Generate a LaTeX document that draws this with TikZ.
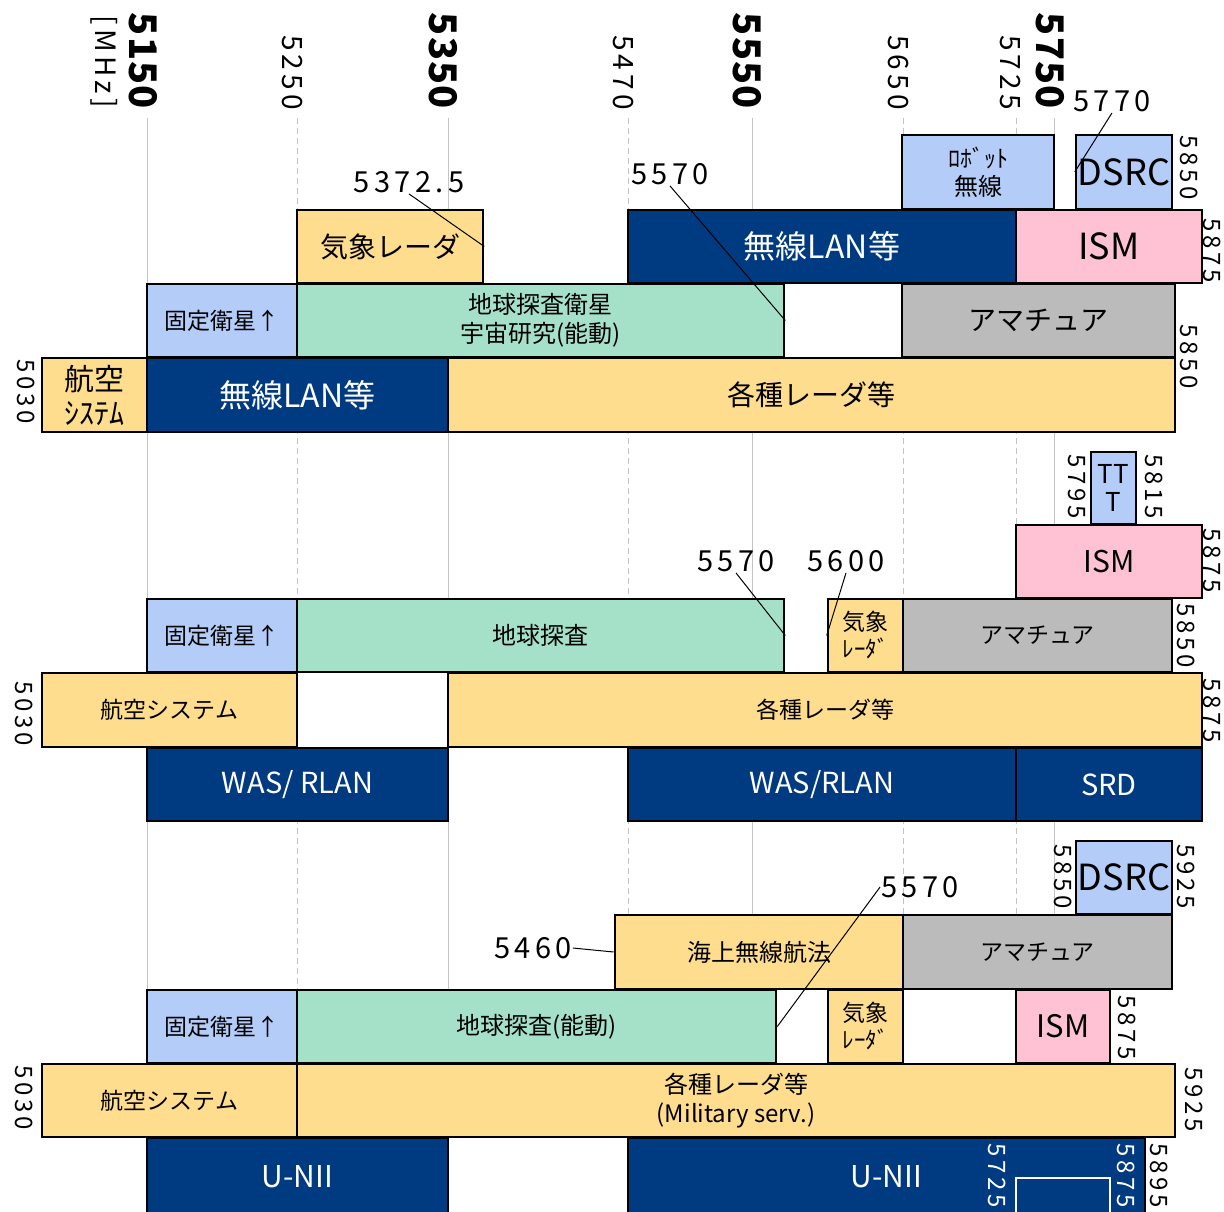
\documentclass[tikz,border=0pt]{standalone}
\usepackage{fontspec}
\setmainfont{Noto Sans CJK JP}
\newfontfamily\numfont[LetterSpace=15]{Noto Sans CJK JP}
\newfontfamily\numboldfont[LetterSpace=3]{Noto Sans CJK JP}
\definecolor{clb}{HTML}{B4CDF8}
\definecolor{cyl}{HTML}{FFDD8E}
\definecolor{cnv}{HTML}{003A80}
\definecolor{cpk}{HTML}{FEC2D4}
\definecolor{cgr}{HTML}{A4E1C8}
\definecolor{cgy}{HTML}{BCBBBC}
\definecolor{cgrid}{HTML}{C4C4C4}
\tikzset{
  box/.style={draw=black,line width=2.6pt,rectangle,inner sep=0pt,align=center,text=black},
  lb/.style={fill=clb}, yl/.style={fill=cyl}, nv/.style={fill=cnv,text=white},
  pk/.style={fill=cpk}, gr/.style={fill=cgr}, gy/.style={fill=cgy},
  gridsolid/.style={draw=cgrid,line width=1pt},
  griddash/.style={draw=cgrid,line width=1pt,dash pattern=on 6pt off 4pt},
  vlab/.style={rotate=-90,inner sep=0pt,font=\numfont\fontsize{24}{24}\selectfont},
  toplab/.style={rotate=-90,anchor=east,inner sep=0pt,font=\numfont\fontsize{28}{28}\selectfont},
  topbold/.style={rotate=-90,anchor=east,inner sep=0pt,font=\numboldfont\bfseries\fontsize{38}{38}\selectfont},
  annot/.style={inner sep=1pt,font=\numfont\fontsize{29}{29}\selectfont},
  lead/.style={draw=black,line width=1pt}
}
\newcommand\bx[9]{%
  \node[box,#6,minimum width={(#4-#2)*1pt},minimum height={(#5-#3)*1pt},
        font=\fontsize{#8}{#9}\selectfont] (#1) at ({(#2+#4)/2},{(#3+#5)/2}) {#7};}
\begin{document}
\begin{tikzpicture}[x=1pt,y=-1pt]
\useasboundingbox (0,0) rectangle (1224,1211);
% grid lines
\draw[gridsolid] (147,118) -- (147,1215);
\draw[gridsolid] (448,118) -- (448,1215);
\draw[gridsolid] (752,118) -- (752,1215);
\draw[gridsolid] (1054,118) -- (1054,1215);
\draw[griddash] (297,118) -- (297,1215);
\draw[griddash] (628,118) -- (628,1215);
\draw[griddash] (903,118) -- (903,1215);
\draw[griddash] (1016,118) -- (1016,1215);
% top labels
\node[toplab] (mhz) at (104,108) {[MHz]};
\node[topbold] (t5150) at (143,109) {5150};
\node[toplab] (t5250) at (292,110) {5250};
\node[topbold] (t5350) at (443,109) {5350};
\node[toplab] (t5470) at (623,110) {5470};
\node[topbold] (t5550) at (747,109) {5550};
\node[toplab] (t5650) at (898,110) {5650};
\node[toplab] (t5725) at (1010,110) {5725};
\node[topbold] (t5750) at (1050,109) {5750};
% ---- section 1
\bx{robot}{902}{135}{1054}{209}{lb}{ﾛﾎﾞｯﾄ\\無線}{24}{28}
\bx{dsrc1}{1076}{135}{1172}{209}{lb}{DSRC}{36}{40}
\bx{kisho1}{297}{210}{483}{283}{yl}{気象レーダ}{28}{34}
\bx{wlan1}{628}{210}{1016}{283}{nv}{無線LAN等}{32}{36}
\bx{ism1}{1016}{210}{1202}{283}{pk}{ISM}{36}{40}
\bx{kotei1}{147}{284}{297}{357}{lb}{固定衛星↑}{23}{28}
\bx{chikyu1}{297}{284}{784}{357}{gr}{地球探査衛星\\宇宙研究(能動)}{24}{29}
\bx{ama1}{902}{284}{1175}{357}{gy}{アマチュア}{28}{34}
\bx{koku1}{42}{358}{147}{432}{yl}{航空\\ｼｽﾃﾑ}{30}{34}
\bx{wlan1b}{147}{358}{448}{432}{nv}{無線LAN等}{32}{36}
\bx{radar1}{448}{358}{1175}{432}{yl}{各種レーダ等}{28}{34}
% ---- section 2
\bx{ttt}{1091}{452}{1136}{524}{lb}{TT\\T}{26}{28}
\bx{ism2}{1016}{525}{1202}{598}{pk}{ISM}{30}{34}
\bx{kotei2}{147}{599}{297}{672}{lb}{固定衛星↑}{23}{28}
\bx{chikyu2}{297}{599}{784}{672}{gr}{地球探査}{24}{29}
\bx{kisho2}{828}{599}{903}{672}{yl}{気象\\ﾚｰﾀﾞ}{23}{27}
\bx{ama2}{903}{599}{1172}{672}{gy}{アマチュア}{23}{28}
\bx{koku2}{42}{673}{297}{747}{yl}{航空システム}{23}{28}
\bx{radar2}{448}{673}{1202}{747}{yl}{各種レーダ等}{23}{28}
\bx{was1}{147}{748}{448}{821}{nv}{WAS/ RLAN}{29}{33}
\bx{was2}{628}{748}{1016}{821}{nv}{WAS/RLAN}{29}{33}
\bx{srd}{1016}{748}{1202}{821}{nv}{SRD}{29}{33}
% ---- section 3
\bx{dsrc2}{1076}{841}{1172}{914}{lb}{DSRC}{36}{40}
\bx{kaijo}{615}{915}{903}{989}{yl}{海上無線航法}{24}{29}
\bx{ama3}{903}{915}{1172}{989}{gy}{アマチュア}{23}{28}
\bx{kotei3}{147}{990}{297}{1063}{lb}{固定衛星↑}{23}{28}
\bx{chikyu3}{297}{990}{776}{1063}{gr}{地球探査(能動)}{24}{28}
\bx{kisho3}{828}{990}{903}{1063}{yl}{気象\\ﾚｰﾀﾞ}{23}{27}
\bx{ism3}{1016}{990}{1110}{1063}{pk}{ISM}{31}{35}
\bx{koku3}{42}{1064}{297}{1137}{yl}{航空システム}{23}{28}
\bx{radar3}{297}{1064}{1175}{1137}{yl}{各種レーダ等\\(Military serv.)}{24}{29}
\bx{unii1}{147}{1138}{448}{1216}{nv}{U-NII}{30}{34}
\bx{unii2}{628}{1138}{1145}{1216}{nv}{U-NII}{30}{34}
\draw[white,line width=2pt] (1016,1220) -- (1016,1178) -- (1110,1178) -- (1110,1220);
% side labels
\node[vlab] (s1a) at (1189,168) {5850};
\node[vlab] (s1b) at (1212,251) {5875};
\node[vlab] (s1c) at (1189,357) {5850};
\node[vlab] (s1d) at (26,392) {5030};
\node[vlab] (s2a) at (1077,487) {5795};
\node[vlab] (s2b) at (1154,487) {5815};
\node[vlab] (s2c) at (1212,561) {5875};
\node[vlab] (s2d) at (1186,636) {5850};
\node[vlab] (s2e) at (1212,711) {5875};
\node[vlab] (s2f) at (24,714) {5030};
\node[vlab] (s3a) at (1063,877) {5850};
\node[vlab] (s3b) at (1186,877) {5925};
\node[vlab] (s3c) at (1127,1028) {5875};
\node[vlab] (s3d) at (1194,1100) {5925};
\node[vlab] (s3e) at (24,1098) {5030};
\node[vlab,text=white] (s3f) at (997,1176) {5725};
\node[vlab,text=white] (s3g) at (1126,1176) {5875};
\node[vlab] (s3h) at (1159,1176) {5895};
% annotations
\node[annot] (n5372) at (409,182) {5372.5};
\node[annot] (n5570a) at (670,174) {5570};
\node[annot] (n5770) at (1112,101) {5770};
\node[annot] (n5570b) at (736,561) {5570};
\node[annot] (n5600) at (846,561) {5600};
\node[annot] (n5460) at (533,948) {5460};
\node[annot] (n5570c) at (920,887) {5570};
\draw[lead] (n5372.south) -- (kisho1.east);
\draw[lead] (n5570a.south) -- (chikyu1.east);
\draw[lead] (n5770.south) -- (dsrc1.west);
\draw[lead] (n5570b.south) -- (chikyu2.east);
\draw[lead] (n5600.south) -- (kisho2.west);
\draw[lead] (n5460.east) -- (kaijo.west);
\draw[lead] (n5570c.west) -- (chikyu3.east);
\end{tikzpicture}
\end{document}
